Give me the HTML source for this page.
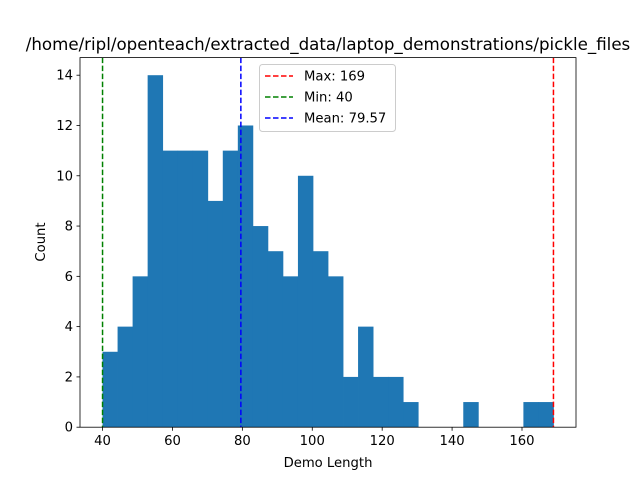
<!DOCTYPE html>
<html><head><meta charset="utf-8"><style>
body{margin:0;background:#fff}
svg{font-family:"DejaVu Sans","Liberation Sans",sans-serif}
</style></head><body>
<svg id="c" width="640" height="480" xmlns="http://www.w3.org/2000/svg">
<rect width="640" height="480" fill="#fff"/>
<g id="bars"></g>
<g id="lines"></g>
<rect x="80" y="57.6" width="496" height="369.6" fill="none" stroke="#000" stroke-width="0.8"/>
<g id="xt"></g>
<g id="yt"></g>
<text x="328" y="50" text-anchor="middle" font-size="16.67">/home/ripl/openteach/extracted_data/laptop_demonstrations/pickle_files</text>
<text x="328" y="467" text-anchor="middle" font-size="13.2">Demo Length</text>
<text transform="translate(45,242) rotate(-90)" text-anchor="middle" font-size="13.2">Count</text>
<g>
<rect x="259.5" y="64.5" width="136" height="67" rx="3" fill="#fff" fill-opacity="0.8" stroke="#ccc"/>
<line x1="265" x2="293" y1="76" y2="76" stroke="red" stroke-width="1.5" stroke-dasharray="5.5,2.5"/>
<text x="304" y="80.5" font-size="13.2">Max: 169</text>
<line x1="265" x2="293" y1="97" y2="97" stroke="green" stroke-width="1.5" stroke-dasharray="5.5,2.5"/>
<text x="304" y="101.5" font-size="13.2">Min: 40</text>
<line x1="265" x2="293" y1="118" y2="118" stroke="blue" stroke-width="1.5" stroke-dasharray="5.5,2.5"/>
<text x="304" y="122.5" font-size="13.2">Mean: 79.57</text>
</g>
</svg>
<script>
const counts=[3,4,6,14,11,11,11,9,11,12,8,7,6,10,7,6,2,4,2,2,1,0,0,0,1,0,0,0,1,1];
const binStart=40, binEnd=169;
const xTicks=[40,60,80,100,120,140,160];
const yTicks=[0,2,4,6,8,10,12,14];
const refValues=[169,40,79.57];
const refColors=["red","green","blue"];
const NS="http://www.w3.org/2000/svg";
const L=80,W=496,T=57.6,H=369.6;
const span=binEnd-binStart, x0=binStart-span*0.05, x1=binEnd+span*0.05;
const ymax=Math.max(...counts)*1.05;
const X=v=>L+(v-x0)/(x1-x0)*W;
const Y=v=>T+H-v/ymax*H;
function mk(t,a,p){const e=document.createElementNS(NS,t);for(const k in a)e.setAttribute(k,a[k]);p.appendChild(e);return e;}
const bw=span/counts.length;
const bars=document.getElementById('bars');
counts.forEach((c,i)=>{const a=X(binStart+i*bw),b=X(binStart+(i+1)*bw);
const r=mk('rect',{x:a,y:Y(c),width:b-a+0.4,height:Y(0)-Y(c),fill:'#1f77b4'},bars);

});
const lines=document.getElementById('lines');
refValues.forEach((v,i)=>{const l=mk('line',{x1:X(v),x2:X(v),y1:T,y2:T+H,stroke:refColors[i],'stroke-width':1.5,'stroke-dasharray':'5.5,2.5'},lines);

});
const xt=document.getElementById('xt');
xTicks.forEach(v=>{mk('line',{x1:X(v),x2:X(v),y1:T+H,y2:T+H+3.5,stroke:'#000','stroke-width':0.8},xt);
const t=mk('text',{x:X(v),y:T+H+18,'text-anchor':'middle','font-size':13.2},xt);t.textContent=v;

});
const yt=document.getElementById('yt');
yTicks.forEach(v=>{mk('line',{x1:L-3.5,x2:L,y1:Y(v),y2:Y(v),stroke:'#000','stroke-width':0.8},yt);
const t=mk('text',{x:L-7,y:Y(v)+4.5,'text-anchor':'end','font-size':13.2},yt);t.textContent=v;

});
</script>
</body></html>
